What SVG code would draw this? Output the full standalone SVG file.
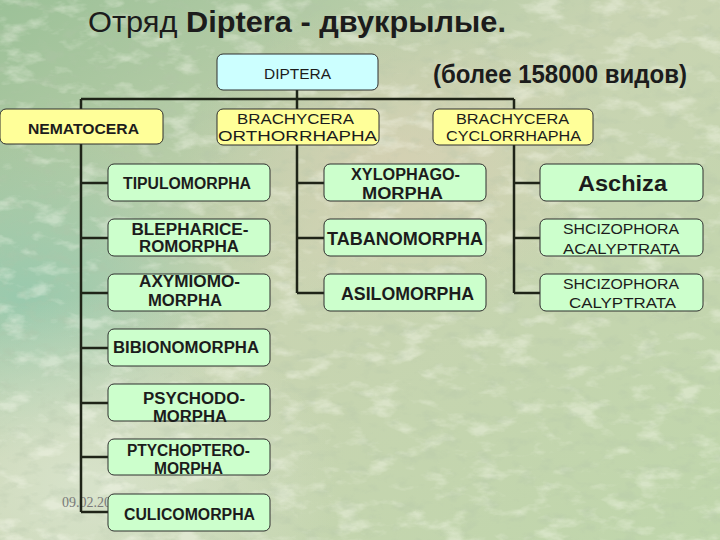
<svg xmlns="http://www.w3.org/2000/svg" width="720" height="540" viewBox="0 0 720 540">
  <defs>
    <linearGradient id="bg" x1="0" y1="0" x2="1" y2="1">
      <stop offset="0" stop-color="#9cc198"/>
      <stop offset="0.45" stop-color="#c9d4b2"/>
      <stop offset="1" stop-color="#bfd6ab"/>
    </linearGradient>
    <radialGradient id="blobL" cx="0.03" cy="0.55" r="0.3">
      <stop offset="0" stop-color="#96c9ae" stop-opacity="0.9"/>
      <stop offset="1" stop-color="#96c9ae" stop-opacity="0"/>
    </radialGradient>
    <radialGradient id="blobB" cx="0.12" cy="0.9" r="0.35">
      <stop offset="0" stop-color="#d9e4cd" stop-opacity="0.9"/>
      <stop offset="1" stop-color="#d9e4cd" stop-opacity="0"/>
    </radialGradient>
    <radialGradient id="blobC" cx="0.55" cy="0.3" r="0.3">
      <stop offset="0" stop-color="#dad0b4" stop-opacity="0.7"/>
      <stop offset="1" stop-color="#dad0b4" stop-opacity="0"/>
    </radialGradient>
    <filter id="texL" x="0" y="0" width="100%" height="100%">
      <feTurbulence type="fractalNoise" baseFrequency="0.03 0.06" numOctaves="4" seed="7"/>
      <feColorMatrix type="matrix" values="0 0 0 0 1  0 0 0 0 1  0 0 0 0 0.92  4 0 0 0 -2.1"/>
    </filter>
    <filter id="texD" x="0" y="0" width="100%" height="100%">
      <feTurbulence type="fractalNoise" baseFrequency="0.05 0.08" numOctaves="4" seed="11"/>
      <feColorMatrix type="matrix" values="0 0 0 0 0.45  0 0 0 0 0.55  0 0 0 0 0.4  -4 0 0 0 1.9"/>
    </filter>
    <style>
      .box { stroke: #2e2e2e; stroke-width: 1; }
      .cyan { fill: #ccffff; }
      .yel { fill: #ffff99; }
      .grn { fill: #ccffcc; }
      .t { font-family: "Liberation Sans", Arial, sans-serif; fill: #1c1c1c; text-anchor: middle; }
      .b { font-weight: bold; }
      .con { stroke: #1f2418; stroke-width: 2.5; fill: none; }
    </style>
  </defs>

  <rect width="720" height="540" fill="url(#bg)"/>
  <rect width="720" height="540" fill="url(#blobL)"/>
  <rect width="720" height="540" fill="url(#blobB)"/>
  <rect width="720" height="540" fill="url(#blobC)"/>
  <rect width="720" height="540" filter="url(#texL)" opacity="0.35"/>
  <rect width="720" height="540" filter="url(#texD)" opacity="0.25"/>

  <text x="88" y="32" font-family="'Liberation Sans', Arial, sans-serif" font-size="30" fill="#1c1c1c" textLength="418" lengthAdjust="spacingAndGlyphs">Отряд <tspan font-weight="bold">Diptera - двукрылые.</tspan></text>
  <text x="433" y="83" font-family="'Liberation Sans', Arial, sans-serif" font-size="25" font-weight="bold" fill="#1c1c1c" textLength="254" lengthAdjust="spacingAndGlyphs">(более 158000 видов)</text>

  <text x="62" y="507" font-family="'Liberation Serif', serif" font-size="14" fill="#7a7a7a">09.02.20</text>

  <g id="connectors">
    <path class="con" d="M297,90 V99 M81,99 H514 M81,99 V109 M297,99 V109 M514,99 V109"/>
    <path class="con" d="M81,144 V512 M81,183 H108 M81,238 H108 M81,293 H108 M81,348 H108 M81,403 H108 M81,457 H108 M81,512 H108"/>
    <path class="con" d="M297,145 V293 M297,183 H324 M297,238 H324 M297,293 H324"/>
    <path class="con" d="M514,145 V293 M514,183 H540 M514,238 H540 M514,293 H540"/>
  </g>

  <g id="diptera">
    <rect class="box cyan" x="217" y="54" width="161" height="36" rx="6"/>
    <text class="t" x="297.5" y="79" font-size="15" textLength="67" lengthAdjust="spacingAndGlyphs">DIPTERA</text>
  </g>

  <g id="nematocera">
    <rect class="box yel" x="0" y="109" width="163" height="35" rx="6"/>
    <text class="t b" x="83.5" y="134" font-size="15.5" textLength="111" lengthAdjust="spacingAndGlyphs">NEMATOCERA</text>
  </g>
  <g id="brachycera-orthorrhapha">
    <rect class="box yel" x="217" y="109" width="162" height="36" rx="6"/>
    <text class="t" x="295.5" y="124" font-size="15.5" textLength="117" lengthAdjust="spacingAndGlyphs">BRACHYCERA</text>
    <text class="t" x="297.5" y="140.5" font-size="15.5" textLength="159" lengthAdjust="spacingAndGlyphs">ORTHORRHAPHA</text>
  </g>
  <g id="brachycera-cyclorrhapha">
    <rect class="box yel" x="433" y="109" width="160" height="36" rx="6"/>
    <text class="t" x="512.5" y="124" font-size="15" textLength="113" lengthAdjust="spacingAndGlyphs">BRACHYCERA</text>
    <text class="t" x="513.5" y="141" font-size="15" textLength="135" lengthAdjust="spacingAndGlyphs">CYCLORRHAPHA</text>
  </g>

  <g id="tipulomorpha">
    <rect class="box grn" x="108" y="164" width="162" height="37" rx="6"/>
    <text class="t b" x="187" y="188.5" font-size="16" textLength="128" lengthAdjust="spacingAndGlyphs">TIPULOMORPHA</text>
  </g>
  <g id="blepharice-romorpha">
    <rect class="box grn" x="108" y="219" width="162" height="37" rx="6"/>
    <text class="t b" x="190" y="235" font-size="16" textLength="117" lengthAdjust="spacingAndGlyphs">BLEPHARICE-</text>
    <text class="t b" x="189" y="251.5" font-size="16" textLength="100" lengthAdjust="spacingAndGlyphs">ROMORPHA</text>
  </g>
  <g id="axymiomo-morpha">
    <rect class="box grn" x="108" y="274" width="162" height="37" rx="6"/>
    <text class="t b" x="189.5" y="286.5" font-size="16" textLength="101" lengthAdjust="spacingAndGlyphs">AXYMIOMO-</text>
    <text class="t b" x="185" y="305.5" font-size="16" textLength="74" lengthAdjust="spacingAndGlyphs">MORPHA</text>
  </g>
  <g id="bibionomorpha">
    <rect class="box grn" x="108" y="329" width="162" height="37" rx="6"/>
    <text class="t b" x="186" y="352.5" font-size="16" textLength="146" lengthAdjust="spacingAndGlyphs">BIBIONOMORPHA</text>
  </g>
  <g id="psychodo-morpha">
    <rect class="box grn" x="108" y="384" width="162" height="37" rx="6"/>
    <text class="t b" x="194" y="403.5" font-size="16" textLength="102" lengthAdjust="spacingAndGlyphs">PSYCHODO-</text>
    <text class="t b" x="190" y="421.5" font-size="16" textLength="74" lengthAdjust="spacingAndGlyphs">MORPHA</text>
  </g>
  <g id="ptychoptero-morpha">
    <rect class="box grn" x="108" y="439" width="162" height="36" rx="6"/>
    <text class="t b" x="188.5" y="455.5" font-size="16" textLength="123" lengthAdjust="spacingAndGlyphs">PTYCHOPTERO-</text>
    <text class="t b" x="188.5" y="473.5" font-size="16" textLength="69" lengthAdjust="spacingAndGlyphs">MORPHA</text>
  </g>
  <g id="culicomorpha">
    <rect class="box grn" x="108" y="494" width="162" height="37" rx="6"/>
    <text class="t b" x="189.5" y="519.5" font-size="16" textLength="131" lengthAdjust="spacingAndGlyphs">CULICOMORPHA</text>
  </g>

  <g id="xylophago-morpha">
    <rect class="box grn" x="324" y="164" width="162" height="37" rx="6"/>
    <text class="t b" x="405.5" y="179.5" font-size="16" textLength="109" lengthAdjust="spacingAndGlyphs">XYLOPHAGO-</text>
    <text class="t b" x="402.5" y="199" font-size="16" textLength="81" lengthAdjust="spacingAndGlyphs">MORPHA</text>
  </g>
  <g id="tabanomorpha">
    <rect class="box grn" x="324" y="219" width="162" height="37" rx="6"/>
    <text class="t b" x="405" y="244.5" font-size="17.5" textLength="156" lengthAdjust="spacingAndGlyphs">TABANOMORPHA</text>
  </g>
  <g id="asilomorpha">
    <rect class="box grn" x="324" y="274" width="162" height="37" rx="6"/>
    <text class="t b" x="407.5" y="299.5" font-size="17.5" textLength="133" lengthAdjust="spacingAndGlyphs">ASILOMORPHA</text>
  </g>

  <g id="aschiza">
    <rect class="box grn" x="540" y="164" width="163" height="37" rx="6"/>
    <text class="t b" x="622.5" y="191" font-size="22" textLength="89" lengthAdjust="spacingAndGlyphs">Aschiza</text>
  </g>
  <g id="shcizophora-acalyptrata">
    <rect class="box grn" x="540" y="219" width="163" height="37" rx="6"/>
    <text class="t" x="621" y="233.5" font-size="14.5" textLength="116" lengthAdjust="spacingAndGlyphs">SHCIZOPHORA</text>
    <text class="t" x="621.5" y="253.5" font-size="14.5" textLength="117" lengthAdjust="spacingAndGlyphs">ACALYPTRATA</text>
  </g>
  <g id="shcizophora-calyptrata">
    <rect class="box grn" x="540" y="274" width="163" height="37" rx="6"/>
    <text class="t" x="621" y="288.5" font-size="14.5" textLength="116" lengthAdjust="spacingAndGlyphs">SHCIZOPHORA</text>
    <text class="t" x="622.5" y="307.5" font-size="14.5" textLength="107" lengthAdjust="spacingAndGlyphs">CALYPTRATA</text>
  </g>
</svg>
